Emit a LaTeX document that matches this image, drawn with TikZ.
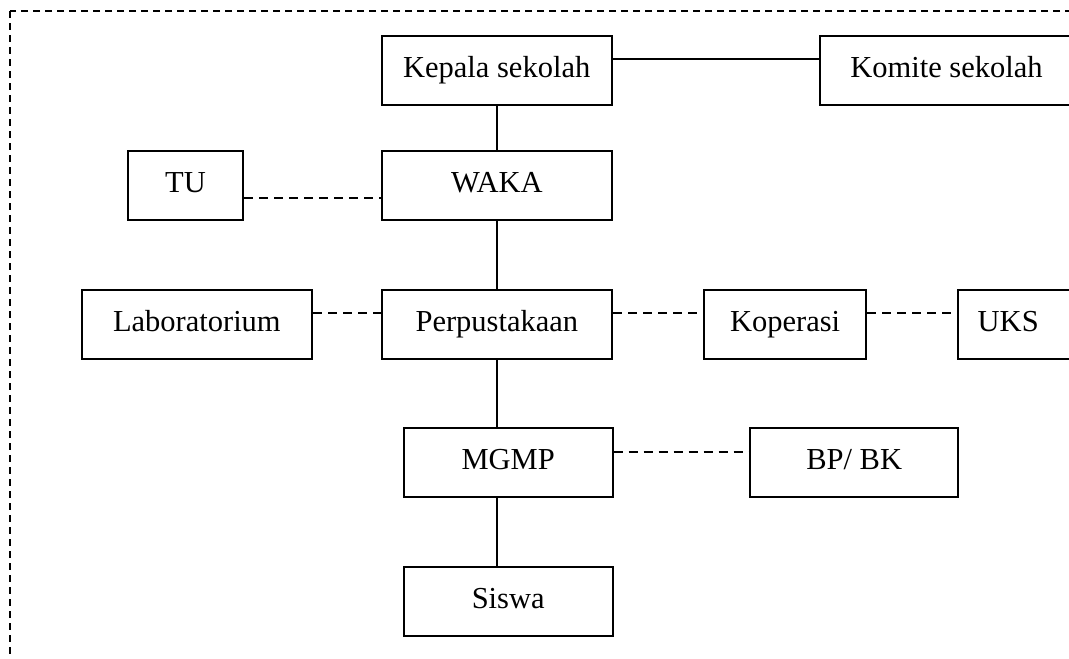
\documentclass[tikz,border=0pt]{standalone}
\usepackage{fontspec}
\setmainfont{Liberation Serif}
\tikzset{
  box/.style={draw, line width=2pt, minimum height=69pt, inner sep=0pt,
    anchor=north west, font=\fontsize{30.5}{36}\selectfont,
    text height=22pt, text depth=8pt},
  link/.style={line width=2pt},
  dline/.style={line width=2pt, dash pattern=on 9pt off 6pt},
  frame/.style={line width=2pt, dash pattern=on 7pt off 5pt}
}
\begin{document}
\begin{tikzpicture}[x=1pt,y=-1pt]
  \useasboundingbox (0,0) rectangle (1069,659);
  \clip (0,0) rectangle (1069,659);
  \fill[white] (0,0) rectangle (1069,659);

  % outer dashed frame (runs past the right and lower edges)
  \draw[frame] (10,11) rectangle (1100,700);

  % units
  \node[box, minimum width=230]   (kepala)   at (380.7,35)    {Kepala sekolah};
  \node[box, minimum width=252.4] (komite)   at (819.3,35)    {Komite sekolah};
  \node[box, minimum width=115.6] (tu)       at (126.7,150)   {TU};
  \node[box, minimum width=230.3] (waka)     at (380.7,150)   {WAKA};
  \node[box, minimum width=230.3] (lab)      at (80.7,289)    {Laboratorium};
  \node[box, minimum width=230.3] (perpus)   at (380.7,289)   {Perpustakaan};
  \node[box, minimum width=161.7] (koperasi) at (703.3,289)   {Koperasi};
  \node[box, text width=100pt, align=left, inner xsep=20pt] (uks) at (956.7,289) {UKS};
  \node[box, minimum width=209]   (mgmp)     at (402.7,427.3) {MGMP};
  \node[box, minimum width=208.3] (bpbk)     at (749,427.3)   {BP/ BK};
  \node[box, minimum width=209]   (siswa)    at (402.7,565.7) {Siswa};

  % line of command
  \draw[link] ([yshift=11.5pt]kepala.east) -- ([yshift=11.5pt]kepala.east -| komite.west);
  \draw[link] (waka.north |- kepala.south) -- (waka.north);
  \draw[link] (waka.south) -- (perpus.north);
  \draw[link] (perpus.south) -- (perpus.south |- mgmp.north);
  \draw[link] (perpus.south |- mgmp.south) -- (perpus.south |- siswa.north);

  % coordination
  \draw[dline] ([yshift=-12pt]tu.east) -- ([yshift=-12pt]tu.east -| waka.west);
  \draw[dline] ([yshift=12pt]lab.east) -- ([yshift=12pt]lab.east -| perpus.west);
  \draw[dline] ([yshift=12pt]perpus.east) -- ([yshift=12pt]perpus.east -| koperasi.west);
  \draw[dline] ([yshift=12pt]koperasi.east) -- ([yshift=12pt]koperasi.east -| uks.west);
  \draw[dline] ([yshift=11.3pt]mgmp.east) -- ([yshift=11.3pt]mgmp.east -| bpbk.west);
\end{tikzpicture}
\end{document}
